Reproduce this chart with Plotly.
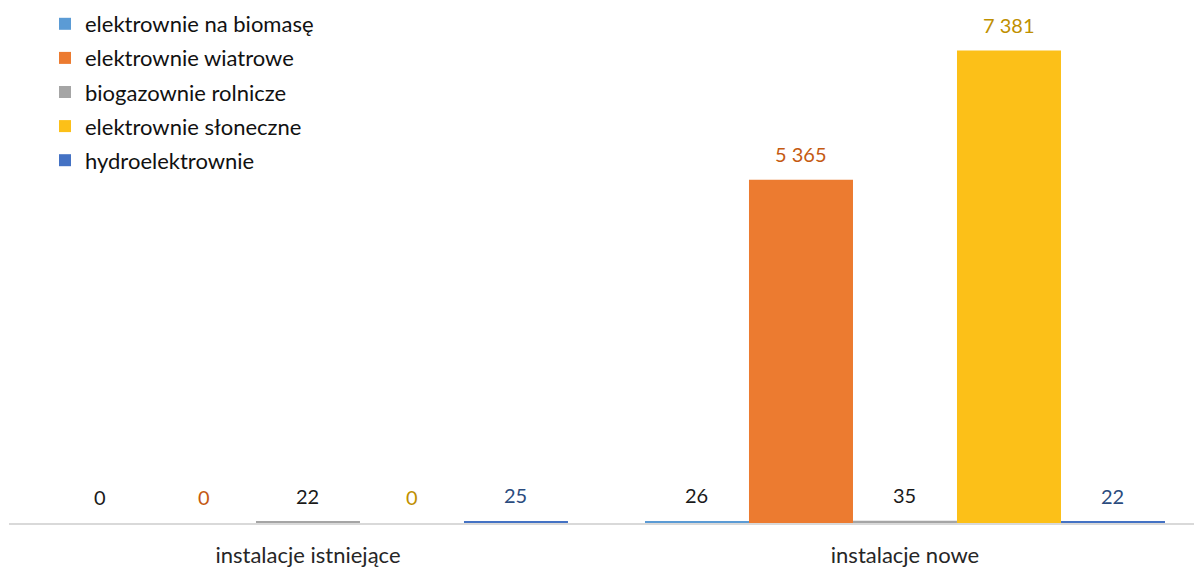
import plotly.graph_objects as go

categories = ["instalacje istniejące", "instalacje nowe"]
series_names = ["elektrownie na biomasę", "elektrownie wiatrowe", "biogazownie rolnicze",
                "elektrownie słoneczne", "hydroelektrownie"]
biomasa = [0, 26]
wiatrowe = [0, 5365]
biogazownie = [22, 35]
sloneczne = [0, 7381]
hydro = [25, 22]

series_values = [biomasa, wiatrowe, biogazownie, sloneczne, hydro]
bar_colors = ["#5B9BD5", "#EC7B30", "#A5A5A5", "#FCC018", "#4472C4"]
label_colors = ["#1a1a1a", "#C55A11", "#1a1a1a", "#BF9000", "#2B4C7E"]

FONT = "Lato"

fig = go.Figure()
for name, vals, col in zip(series_names, series_values, bar_colors):
    fig.add_trace(go.Bar(
        x=categories, y=vals, name=name, legendgroup=name,
        marker=dict(color=col, line=dict(width=0)),
        hoverinfo="x+y+name",
    ))

# data labels via annotations, offset per series within group
n = len(series_names)
bar_px = 104
for i, (vals, lc) in enumerate(zip(series_values, label_colors)):
    for cat, v in zip(categories, vals):
        fig.add_annotation(
            x=cat, y=v, xref="x", yref="y",
            text=f"{v:,}".replace(",", " "),
            showarrow=False, xshift=(i - (n - 1) / 2) * bar_px, yshift=26,
            yanchor="middle", xanchor="center",
            font=dict(family=FONT, size=20, color=lc),
        )

fig.update_layout(
    width=1194, height=567,
    margin=dict(l=9, r=0, t=11, b=44, autoexpand=False),
    paper_bgcolor="white", plot_bgcolor="white",
    barmode="group", bargap=0.129, bargroupgap=0,
    font=dict(family=FONT, size=22, color="#262626"),
    showlegend=True,
    legend=dict(
        xref="container", yref="container", x=45 / 1194, y=1 - 3 / 567,
        xanchor="left", yanchor="top",
        font=dict(family=FONT, size=22, color="#111111"),
        tracegroupgap=2.5, traceorder="grouped",
        bgcolor="rgba(0,0,0,0)",
    ),
    xaxis=dict(
        type="category", range=[-0.5008, 1.4841],
        showline=True, linecolor="#D9D9D9", linewidth=2,
        ticks="", showgrid=False, zeroline=False,
        tickfont=dict(family=FONT, size=22, color="#262626"),
        ticklabelstandoff=12,
    ),
    yaxis=dict(
        range=[0, 8000], visible=False, showgrid=False, zeroline=False,
    ),
)

fig.write_html("out.html")
